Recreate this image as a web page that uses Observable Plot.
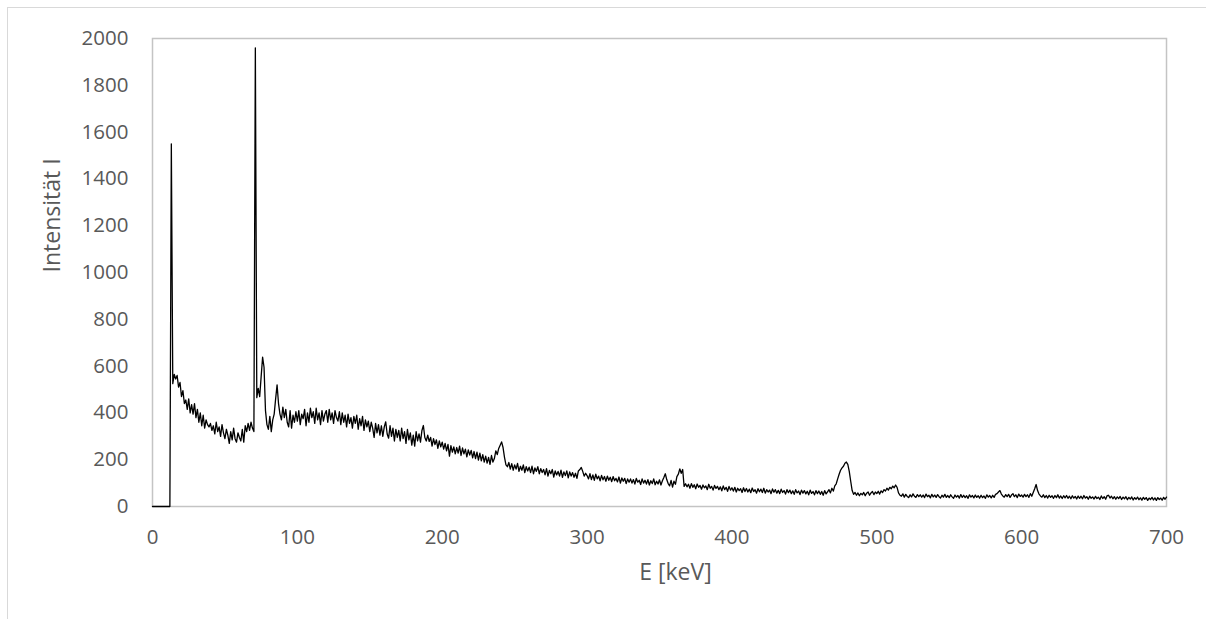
<!DOCTYPE html>
<html>
<head>
<meta charset="utf-8">
<script src="https://cdn.jsdelivr.net/npm/d3@7"></script>
<script src="https://cdn.jsdelivr.net/npm/@observablehq/plot@0.6"></script>
<style>
  html, body { margin: 0; padding: 0; background: #fff; overflow: hidden; }
  #wrap { position: relative; width: 1206px; height: 619px; }
  #outer { position: absolute; left: 7px; top: 7px; width: 1300px; height: 700px; border: 1.5px solid #d9d9d9; box-sizing: border-box; }
  #chart { position: absolute; left: 0; top: 0; }
</style>
</head>
<body>
<div id="wrap"><div id="outer"></div><div id="chart"></div></div>
<script>
// Spectrum: intensity per 1 keV channel starting at 0 keV
const startKeV = 0;
const stepKeV = 1;
const intensity = [
  0,0,0,0,0,0,0,0,0,0,
  0,0,0,1550,525,565,545,560,510,530,
  470,495,440,455,415,460,400,435,395,440,
  380,415,360,400,345,390,335,370,350,340,
  355,325,345,310,360,320,340,300,350,315,
  290,330,305,270,320,285,335,290,275,315,
  295,280,330,275,345,320,355,325,360,335,
  320,1960,465,505,470,555,638,595,410,350,
  330,385,320,370,395,460,520,440,395,370,
  425,380,415,360,340,410,335,390,360,405,
  365,410,350,395,375,415,345,400,360,420,
  380,405,355,420,370,400,350,410,365,395,
  410,360,415,370,400,355,410,380,365,405,
  350,400,360,390,340,395,355,380,335,385,
  355,390,330,375,345,385,325,370,340,365,
  320,360,335,295,355,315,350,305,345,300,
  340,362,310,292,345,300,335,280,330,295,
  325,280,335,290,320,270,330,285,315,262,
  305,258,320,280,310,275,325,346,295,280,
  305,278,295,258,290,265,285,248,280,255,
  275,245,270,238,265,215,260,232,255,225,
  252,228,258,218,250,225,245,212,242,220,
  240,208,235,205,232,198,228,195,222,190,
  215,185,210,180,218,190,205,238,222,248,
  262,276,252,210,178,170,188,160,183,155,
  178,160,184,150,172,155,178,145,170,152,
  168,145,172,140,165,150,170,140,162,145,
  158,135,162,130,154,140,158,126,152,135,
  150,130,155,125,148,132,152,122,148,130,
  145,125,142,120,152,158,167,150,130,142,
  132,118,140,115,135,112,138,118,130,110,
  133,114,128,108,130,112,125,106,128,110,
  120,105,126,100,122,108,120,98,118,104,
  118,100,115,96,120,104,112,94,118,100,
  112,96,115,92,110,98,118,93,108,96,
  114,92,110,124,140,115,98,88,112,83,
  108,95,128,138,161,142,158,86,97,84,
  95,78,98,82,93,76,96,82,90,74,
  92,80,88,72,95,78,86,70,90,77,
  86,72,84,67,88,72,82,65,86,70,
  80,66,82,62,78,68,76,60,80,64,
  77,62,74,59,79,64,72,57,76,63,
  74,60,78,57,72,62,70,55,75,61,
  72,57,69,55,74,60,68,53,72,59,
  70,55,67,52,72,58,66,51,70,57,
  68,54,65,50,70,56,64,50,68,55,
  66,52,64,48,68,54,63,72,58,78,
  66,88,97,118,138,155,165,172,185,190,
  180,150,108,68,52,60,48,58,46,56,
  50,60,46,57,62,48,58,64,51,62,
  55,65,53,67,60,72,66,78,70,82,
  76,87,80,92,82,58,48,44,54,40,
  52,43,38,50,41,54,44,39,51,42,
  50,40,49,38,53,42,48,37,52,41,
  49,39,51,42,36,48,40,52,39,47,
  38,50,41,35,49,40,47,36,51,39,
  48,38,46,35,50,40,47,37,49,39,
  46,36,48,38,45,35,50,40,47,37,
  48,39,52,55,62,68,53,45,40,51,
  42,52,39,49,55,42,50,38,53,43,
  49,40,52,42,50,39,55,44,60,76,
  94,68,53,45,40,50,38,47,36,48,
  39,46,35,47,38,50,36,45,34,46,
  37,47,35,44,33,46,36,43,32,45,
  35,44,33,47,36,42,31,44,35,41,
  32,43,34,40,30,45,34,42,31,46,
  48,36,44,33,42,31,41,34,43,30,
  40,33,42,29,39,32,41,28,38,31,
  40,29,37,27,39,31,38,26,36,30,
  39,28,37,26,38,30,36,27,39,31,
  40
];
const xTicks = [0, 100, 200, 300, 400, 500, 600, 700];
const yTicks = [0, 200, 400, 600, 800, 1000, 1200, 1400, 1600, 1800, 2000];
const xTitle = "E [keV]";
const yTitle = "Intensität I";

const data = intensity.map((v, i) => ({E: startKeV + i * stepKeV, I: v}));

const chart = Plot.plot({
  width: 1206,
  height: 619,
  marginLeft: 152,
  marginRight: 40,
  marginTop: 38,
  marginBottom: 113,
  style: {fontFamily: "Open Sans, sans-serif", fontSize: "20.5px", color: "#595959", background: "transparent"},
  x: {domain: [0, 700]},
  y: {domain: [0, 2000]},
  marks: [
    Plot.frame({stroke: "#c4c4c4", strokeWidth: 1.5}),
    Plot.axisX({ticks: xTicks, tickSize: 0, tickPadding: 23, tickFormat: d => String(d), label: null, fill: "#595959"}),
    Plot.axisY({ticks: yTicks, tickSize: 0, tickPadding: 24, tickFormat: d => String(d), label: null, fill: "#595959"}),
    Plot.line(data, {x: "E", y: "I", stroke: "#000", strokeWidth: 1.3}),
    Plot.text([xTitle], {frameAnchor: "bottom", dx: 16, dy: 73, fill: "#595959", fontSize: 23}),
    Plot.text([yTitle], {frameAnchor: "left", dx: -100, rotate: -90, fill: "#595959", fontSize: 23})
  ]
});
document.getElementById("chart").appendChild(chart);
</script>
</body>
</html>
